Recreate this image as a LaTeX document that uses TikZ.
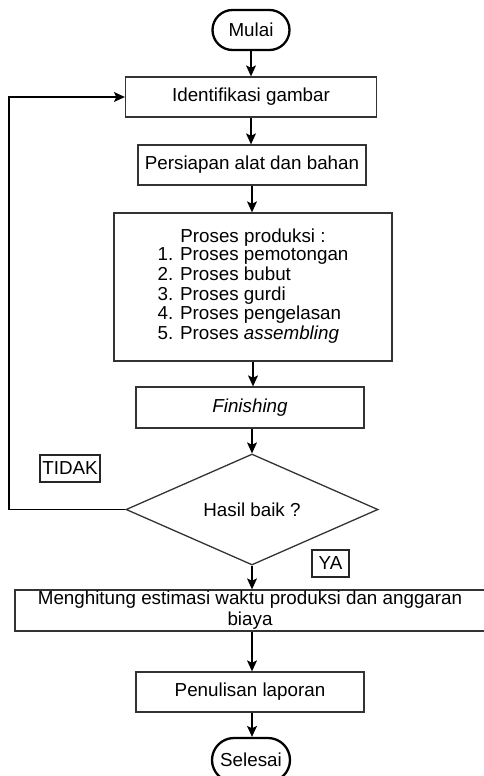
\documentclass[tikz,border=0pt]{standalone}
\usepackage{fontspec}
\setmainfont{Liberation Sans}
\usetikzlibrary{shapes.geometric,shapes.misc,arrows.meta}
\begin{document}
\begin{tikzpicture}[x=1pt,y=-1pt,
  every node/.style={font=\fontsize{18.8}{19.6}\selectfont, inner sep=0pt},
  box/.style={draw=black!80, line width=1.3pt, rectangle, align=center},
  term/.style={draw=black, line width=2.3pt, rounded rectangle, minimum width=77pt, minimum height=40pt},
  decision/.style={draw=black!80, line width=1.3pt, diamond, minimum width=252pt, minimum height=107pt},
  tag/.style={draw=black!85, line width=1.2pt, rectangle},
  conn/.style={draw=black, line width=1.2pt, -{Stealth[length=11pt,width=10pt,inset=2.5pt]}}
]
\useasboundingbox (0,0) rectangle (484,776);
\node[term] (mulai) at (251,30) {Mulai};
\node[box, minimum width=251pt, minimum height=40pt] (ident) at (251,97) {Identifikasi gambar};
\node[box, minimum width=228pt, minimum height=40pt] (siap) at (252,165) {Persiapan alat dan bahan};
\node[box, minimum width=278pt, minimum height=148pt] (proses) at (253,287)
  {Proses produksi :\\
   {\renewcommand{\arraystretch}{1}\begin{tabular}{@{}l@{}}
   1. Proses pemotongan\\
   2. Proses bubut\\
   3. Proses gurdi\\
   4. Proses pengelasan\\
   5. Proses \textit{assembling}
   \end{tabular}}};
\node[box, minimum width=228pt, minimum height=41pt] (finish) at (250,407.5) {\textit{Finishing}};
\node[decision] (dec) at (252,509.5) {Hasil baik ?};
\node[tag, minimum width=60pt, minimum height=27pt] (tidak) at (70,468.5) {TIDAK};
\node[tag, minimum width=37pt, minimum height=27pt] (ya) at (330.5,563.5) {YA};
\node[box, minimum width=470pt, minimum height=41pt] (hitung) at (250,610.5)
  {Menghitung estimasi waktu produksi dan anggaran\\[1.5pt]biaya};
\node[box, minimum width=228pt, minimum height=40pt] (tulis) at (250,692) {Penulisan laporan};
\node[term, minimum width=78pt, minimum height=44pt] (selesai) at (251,760) {Selesai};
\coordinate (fb) at (9,509.5);
\draw[conn] (mulai.south) -- (mulai.south |- ident.north);
\draw[conn] (mulai.south |- ident.south) -- (mulai.south |- siap.north);
\draw[conn] (siap.south) -- (siap.south |- proses.north);
\draw[conn] (proses.south) -- (proses.south |- finish.north);
\draw[conn] (finish.south -| dec.north) -- (dec.north);
\draw[conn] (dec.south) -- (dec.south |- hitung.north);
\draw[conn] (dec.south |- hitung.south) -- (dec.south |- tulis.north);
\draw[conn] (dec.south |- tulis.south) -- (dec.south |- selesai.north);
\draw[conn] (dec.west) -- (fb) |- (ident.west);
\end{tikzpicture}
\end{document}
